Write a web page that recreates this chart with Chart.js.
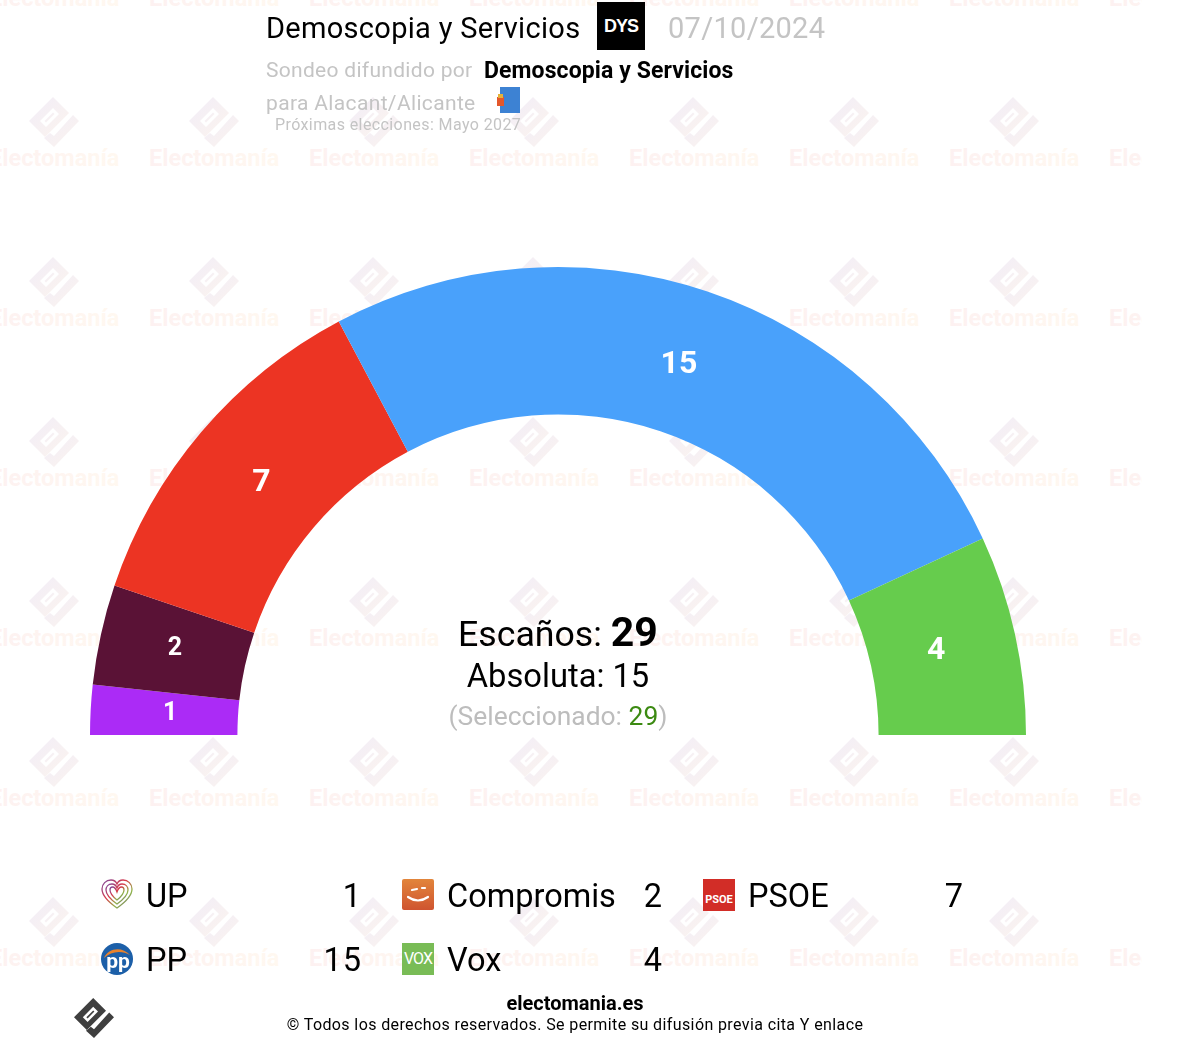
<!DOCTYPE html>
<html lang="es">
<head>
<meta charset="utf-8">
<title>Demoscopia y Servicios - Alacant/Alicante</title>
<script src="https://cdn.jsdelivr.net/npm/chart.js@4"></script>
<style>
  html, body { margin: 0; padding: 0; background: #fff; overflow: hidden; }
  body { width: 1186px; height: 1052px; position: relative; font-family: Roboto, sans-serif; color: #000; }
  #marks, #chartBox, .t, .ico { position: absolute; }
  #marks { left: 0; top: 0; width: 1142px; height: 1052px; }
  #chartBox { left: 0; top: 0; width: 1186px; height: 1052px; }
  .t { white-space: nowrap; line-height: 1; }
  .grey { color: #c4c4c4; }
  .row-val { text-align: right; }
</style>
</head>
<body>
<svg id="marks" xmlns="http://www.w3.org/2000/svg" width="1142" height="1052">
  <defs>
    <linearGradient id="wmLogo" x1="0" y1="0" x2="1" y2="1">
      <stop offset="0" stop-color="#f1edf8"/><stop offset="1" stop-color="#fcf4ee"/>
    </linearGradient>
    <linearGradient id="wmText" x1="0" y1="0" x2="1" y2="0">
      <stop offset="0" stop-color="#fdf1f1"/><stop offset="1" stop-color="#fff8f0"/>
    </linearGradient>
    <symbol id="ema" viewBox="0 0 50 50">
      <path fill-rule="evenodd" d="M0 24 24 0 40 16 16 40ZM11 24 17 30 30 17 24 11Z"/>
      <path d="M15.500 24 24 15.500 25.500 17 17 25.500Z"/>
      <path d="M44 18 50 24 25 50 15 41 21 36 25 39Z"/>
    </symbol>
  </defs>
</svg>
<div id="chartBox"><canvas id="seats"></canvas></div>

<div class="t" style="left:266px;top:14px;font-size:29px;letter-spacing:.3px">Demoscopia y Servicios</div>
<svg class="ico" style="left:597px;top:2px" width="48" height="48"><rect width="48" height="48" fill="#000"/><text x="24" y="30" text-anchor="middle" fill="#fff" font-family="Liberation Sans, sans-serif" font-weight="700" font-size="18" letter-spacing="-1">DYS</text></svg>
<div class="t grey" style="left:668px;top:14px;font-size:29px;letter-spacing:.3px">07/10/2024</div>
<div class="t grey" style="left:266px;top:60px;font-size:21px;letter-spacing:.3px">Sondeo difundido por</div>
<div class="t" style="left:484px;top:59px;font-size:23px;font-weight:700;letter-spacing:.1px">Demoscopia y Servicios</div>
<div class="t grey" style="left:266px;top:93px;font-size:21px;letter-spacing:.35px">para Alacant/Alicante</div>
<svg class="ico" style="left:496px;top:86px" width="26" height="28"><rect x="4" y="1" width="20" height="26" fill="#3d82d3"/><rect x="1" y="11" width="7" height="9" fill="#e4572b"/><rect x="2" y="8" width="5" height="4" fill="#e6b23a"/></svg>
<div class="t grey" style="left:275px;top:117px;font-size:16px;letter-spacing:.4px">Próximas elecciones: Mayo 2027</div>

<div class="t" style="left:458px;top:612px;font-size:35.700px">Escaños: <b style="font-size:41px">29</b></div>
<div class="t" style="left:558px;top:660px;font-size:32.700px;transform:translateX(-50%)">Absoluta: 15</div>
<div class="t" style="left:558px;top:703px;font-size:26.400px;transform:translateX(-50%);color:#bdbdbd">(Seleccionado: <span style="color:#3c8a12">29</span>)</div>

<div id="legend"></div>

<svg class="ico" style="left:74px;top:998px" width="40" height="40" fill="#3f3f3f"><use href="#ema" width="40" height="40"/></svg>
<div class="t" style="left:575px;top:993px;font-size:20px;font-weight:700;transform:translateX(-50%)">electomania.es</div>
<div class="t" style="left:575px;top:1017px;font-size:16px;letter-spacing:.39px;transform:translateX(-50%)">© Todos los derechos reservados. Se permite su difusión previa cita Y enlace</div>

<script>
// Seats per party, left to right round the hemicycle
const parties = ["UP", "Compromis", "PSOE", "PP", "Vox"];
const seats = [1, 2, 7, 15, 4];
const partyColors = ["#ab2bf6", "#5a1236", "#ec3423", "#49a1fb", "#66cc4d"];

// Label tweaks against the arc centre, px
const labelNudge = [[6, 0], [2, -1], [4, 3], [-5, 4], [-7, 1]];
const labelSizes = [25, 25, 32, 32, 32];

// Watermark grid
const svgNS = "http://www.w3.org/2000/svg";
const marks = document.getElementById("marks");
for (let row = 0; row < 7; row++) {
  for (let col = 0; col < 8; col++) {
    let x = 29 + col * 160, y = 97 + (row - 1) * 160;
    let logo = document.createElementNS(svgNS, "use");
    logo.setAttribute("href", "#ema");
    logo.setAttribute("x", x);
    logo.setAttribute("y", y);
    logo.setAttribute("width", 50);
    logo.setAttribute("height", 50);
    logo.setAttribute("fill", "url(#wmLogo)");
    marks.appendChild(logo);
    let word = document.createElementNS(svgNS, "text");
    word.textContent = "Electomanía";
    word.setAttribute("x", x - 40);
    word.setAttribute("y", y + 69);
    word.setAttribute("font-size", "23.500");
    word.setAttribute("font-weight", "700");
    word.setAttribute("font-family", "Roboto, sans-serif");
    word.setAttribute("fill", "url(#wmText)");
    marks.appendChild(word);
  }
}

// Party icons for the legend
const icons = {
  UP: '<g fill="none" stroke-width="1.300"><path d="M16 29C6 22 1 16 1 10 1 5 5 1 10 1c3 0 5 1.500 6 4 1-2.500 3-4 6-4 5 0 9 4 9 9 0 6-5 12-15 19Z" stroke="url(#upGrad)"/><path d="M16 25C9 20 5 15 5 11c0-3 2-6 6-6 2 0 4 1 5 4 1-3 3-4 5-4 4 0 6 3 6 6 0 4-4 9-11 14Z" stroke="url(#upGrad)"/><path d="M16 21c-5-4-7-7-7-10 0-2 1-3 2.500-3S15 10 16 13c1-3 3-5 4.500-5S23 9 23 11c0 3-2 6-7 10Z" stroke="url(#upGrad)"/></g>',
  Compromis: '<rect width="32" height="31" rx="2" fill="url(#coGrad)"/><path d="M6 18q10 7 20 0" fill="none" stroke="#fff" stroke-width="2.200" stroke-linecap="round"/><path d="M10 11l5-1M20 9h3" stroke="#fff" stroke-width="2.200" stroke-linecap="round"/>',
  PSOE: '<rect width="32" height="32" fill="#d22d27"/><text x="16" y="24" text-anchor="middle" fill="#fff" font-size="11" font-weight="700" font-family="Roboto, sans-serif">PSOE</text>',
  PP: '<circle cx="16" cy="16" r="16" fill="#1c5fa8"/><path d="M3 15C7 5 21 3 29 12 21 7 10 8 3 15Z" fill="#e8822c"/><text x="17" y="25" text-anchor="middle" fill="#fff" font-size="21" font-weight="700" font-family="Roboto, sans-serif">pp</text>',
  Vox: '<rect width="32" height="32" fill="#79bc56"/><text x="16" y="21" text-anchor="middle" fill="#fff" font-size="16" font-family="Roboto, sans-serif" letter-spacing="-1">VOX</text>'
};
const iconDefs = '<defs><linearGradient id="upGrad" x1="0" y1="0" x2="1" y2="1"><stop offset="0" stop-color="#7a4aa0"/><stop offset=".4" stop-color="#d93a4a"/><stop offset=".7" stop-color="#8fb74a"/><stop offset="1" stop-color="#6a3a90"/></linearGradient><linearGradient id="coGrad" x1="0" y1="0" x2="0" y2="1"><stop offset="0" stop-color="#e2853b"/><stop offset="1" stop-color="#cf5430"/></linearGradient></defs>';

// Legend, three columns
function drawLegend() {
  let box = document.getElementById("legend");
  parties.forEach((name, i) => {
    let col = i % 3, row = Math.floor(i / 3);
    let left = 101 + col * 301, top = 879 + row * 64;
    box.insertAdjacentHTML("beforeend", `
      <svg class="ico" style="left:${left}px;top:${top}px" width="32" height="32" viewBox="0 0 32 32">${iconDefs}${icons[name]}</svg>
      <div class="t" style="left:${left + 45}px;top:${top + 1}px;font-size:32.500px">${name}</div>
      <div class="t row-val" style="left:${left + 161}px;width:100px;top:${top + 1}px;font-size:32.500px;letter-spacing:1px">${seats[i]}</div>`);
  });
}
drawLegend();

// Numbers on the arcs
const arcLabels = {
  id: "arcLabels",
  afterDatasetsDraw(chart) {
    let ctx = chart.ctx;
    ctx.save();
    ctx.fillStyle = "#fff";
    ctx.textAlign = "center";
    ctx.textBaseline = "middle";
    chart.getDatasetMeta(0).data.forEach((arc, i) => {
      let p = arc.getCenterPoint();
      ctx.font = "700 " + labelSizes[i] + "px Roboto";
      ctx.fillText(seats[i], p.x + labelNudge[i][0], p.y + labelNudge[i][1]);
    });
    ctx.restore();
  }
};

let ctx = document.getElementById("seats").getContext("2d");
new Chart(ctx, {
  type: "doughnut",
  data: {
    labels: parties,
    datasets: [{ data: seats, backgroundColor: partyColors, borderWidth: 0 }]
  },
  options: {
    responsive: true,
    maintainAspectRatio: false,
    animation: false,
    rotation: -90,
    circumference: 180,
    cutout: "68.5%",
    layout: { padding: { left: 90, right: 160, top: 267, bottom: 317 } },
    plugins: { legend: { display: false }, tooltip: { enabled: false } }
  },
  plugins: [arcLabels]
});
</script>
</body>
</html>
